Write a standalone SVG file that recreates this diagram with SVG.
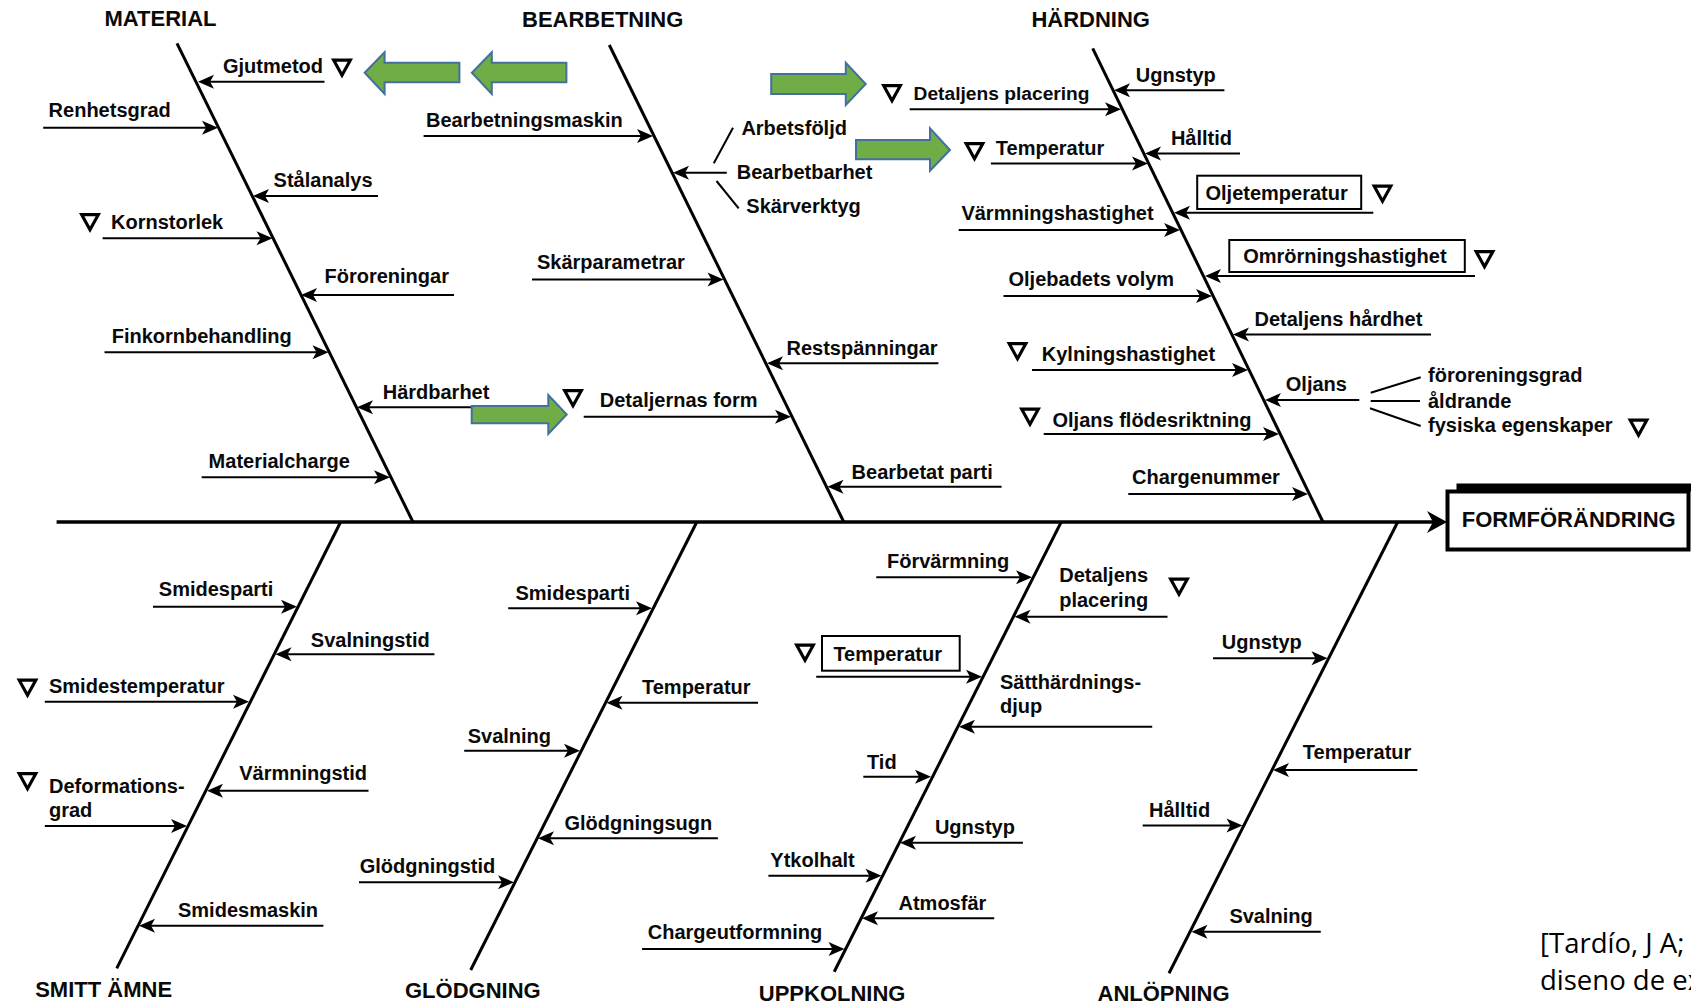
<svg xmlns="http://www.w3.org/2000/svg" xmlns:xlink="http://www.w3.org/1999/xlink" width="1691" height="1008" viewBox="0 0 1691 1008">
<style>
.lbl{font-family:"Liberation Sans",Arial,sans-serif;font-weight:bold;font-size:20px;fill:#0a0a0a}
.hd{font-family:"Liberation Sans",Arial,sans-serif;font-weight:bold;font-size:22px;fill:#0a0a0a}
.cite{font-family:"Open Sans","Noto Sans",sans-serif;font-size:27.5px;fill:#000}
.spine{stroke:#000;stroke-width:3;fill:none}
.br{stroke:#000;stroke-width:2;fill:none}
.arr{stroke:#000;stroke-width:2;fill:none;marker-end:url(#ah)}
.box{fill:none;stroke:#000;stroke-width:2}
.green{fill:#70AD47;stroke:#41719C;stroke-width:2}
</style>
<defs>
<marker id="ah" markerUnits="userSpaceOnUse" markerWidth="20" markerHeight="18" viewBox="-10 -9 20 18" refX="0" refY="0" orient="auto"><path d="M8,0 L-8,-7 L-4,0 L-8,7 z" fill="#000"/></marker>
<marker id="ahB" markerUnits="userSpaceOnUse" markerWidth="26" markerHeight="26" viewBox="-13 -13 26 26" refX="0" refY="0" orient="auto"><path d="M10,0 L-10,-11 L-4,0 L-10,11 z" fill="#000"/></marker>
<polygon id="tri" points="1.7,1.7 18.3,1.7 10,16.8" fill="none" stroke="#000" stroke-width="3.2"/>
</defs>
<rect width="1691" height="1008" fill="#fff"/>

<g id="connectors">
<line x1="56.6" y1="522" x2="1437" y2="522" stroke="#000" stroke-width="3.5" marker-end="url(#ahB)"/>
<line class="spine" x1="177" y1="43.3" x2="413" y2="522"/>
<line class="spine" x1="609.3" y1="45" x2="843.8" y2="522"/>
<line class="spine" x1="1092.7" y1="48.3" x2="1323" y2="522"/>
<line class="spine" x1="340.6" y1="522" x2="116.7" y2="968.3"/>
<line class="spine" x1="696.8" y1="522" x2="470.7" y2="970"/>
<line class="spine" x1="1061.2" y1="522" x2="834.2" y2="971.7"/>
<line class="spine" x1="1397.7" y1="522" x2="1169" y2="973.3"/>
<!-- material -->
<line class="arr" x1="324.5" y1="81.7" x2="206" y2="81.7"/>
<line class="arr" x1="43.2" y1="127.7" x2="210" y2="127.7"/>
<line class="arr" x1="378" y1="196" x2="261" y2="196"/>
<line class="arr" x1="102.6" y1="238.3" x2="264.5" y2="238.3"/>
<line class="arr" x1="454" y1="295" x2="309" y2="295"/>
<line class="arr" x1="104.5" y1="352.3" x2="320.5" y2="352.3"/>
<line class="arr" x1="475" y1="407.3" x2="365" y2="407.3"/>
<line class="arr" x1="201.7" y1="477.3" x2="382" y2="477.3"/>
<!-- bearbetning -->
<line class="arr" x1="423.6" y1="136" x2="645" y2="136"/>
<line class="arr" x1="726.8" y1="172.7" x2="681" y2="172.7"/>
<line class="br" x1="733" y1="127.7" x2="713.8" y2="163.3"/>
<line class="br" x1="716.5" y1="181" x2="738.7" y2="208.3"/>
<line class="arr" x1="532" y1="279.5" x2="715.5" y2="279.5"/>
<line class="arr" x1="938.4" y1="363.3" x2="775" y2="363.3"/>
<line class="arr" x1="583.7" y1="416.7" x2="783" y2="416.7"/>
<line class="arr" x1="1001.6" y1="486.7" x2="835.5" y2="486.7"/>
<!-- härdning -->
<line class="arr" x1="1224.4" y1="90.3" x2="1122" y2="90.3"/>
<line class="arr" x1="909.7" y1="109.3" x2="1113" y2="109.3"/>
<line class="arr" x1="1240" y1="153.6" x2="1153" y2="153.6"/>
<line class="arr" x1="990.9" y1="163.5" x2="1140" y2="163.5"/>
<line class="arr" x1="1373.3" y1="212.8" x2="1182" y2="212.8"/>
<line class="arr" x1="958.7" y1="230" x2="1172" y2="230"/>
<line class="arr" x1="1475" y1="276" x2="1213" y2="276"/>
<line class="arr" x1="1003.5" y1="296" x2="1204" y2="296"/>
<line class="arr" x1="1431" y1="334.6" x2="1241" y2="334.6"/>
<line class="arr" x1="1032" y1="370" x2="1240" y2="370"/>
<line class="arr" x1="1359.3" y1="400" x2="1273" y2="400"/>
<line class="br" x1="1370.7" y1="392.7" x2="1420.7" y2="377.3"/>
<line class="br" x1="1370.7" y1="401" x2="1420" y2="401"/>
<line class="br" x1="1370" y1="408.3" x2="1420.7" y2="426"/>
<line class="arr" x1="1043.7" y1="434" x2="1271" y2="434"/>
<line class="arr" x1="1128.3" y1="494" x2="1300" y2="494"/>
<!-- smitt ämne -->
<line class="arr" x1="153" y1="606.7" x2="289" y2="606.7"/>
<line class="arr" x1="434.4" y1="654.3" x2="283.5" y2="654.3"/>
<line class="arr" x1="44.8" y1="701.7" x2="241" y2="701.7"/>
<line class="arr" x1="368.5" y1="790.7" x2="215" y2="790.7"/>
<line class="arr" x1="44.8" y1="826" x2="179" y2="826"/>
<line class="arr" x1="323.4" y1="925.7" x2="147" y2="925.7"/>
<!-- glödgning -->
<line class="arr" x1="508.2" y1="608.3" x2="644" y2="608.3"/>
<line class="arr" x1="758" y1="702.7" x2="614.5" y2="702.7"/>
<line class="arr" x1="464.2" y1="750.7" x2="572" y2="750.7"/>
<line class="arr" x1="717.9" y1="838.3" x2="546" y2="838.3"/>
<line class="arr" x1="359" y1="882.3" x2="506" y2="882.3"/>
<!-- uppkolning -->
<line class="arr" x1="876.3" y1="577.3" x2="1024" y2="577.3"/>
<line class="arr" x1="1167.5" y1="616.7" x2="1022.5" y2="616.7"/>
<line class="arr" x1="816.2" y1="676.7" x2="974" y2="676.7"/>
<line class="arr" x1="1152.2" y1="726.7" x2="967" y2="726.7"/>
<line class="arr" x1="863.3" y1="776.7" x2="923" y2="776.7"/>
<line class="arr" x1="1022.9" y1="842.7" x2="908" y2="842.7"/>
<line class="arr" x1="768.4" y1="875.7" x2="873.5" y2="875.7"/>
<line class="arr" x1="994.2" y1="918.3" x2="870" y2="918.3"/>
<line class="arr" x1="642.1" y1="949" x2="836.5" y2="949"/>
<!-- anlöpning -->
<line class="arr" x1="1213" y1="658.3" x2="1319.5" y2="658.3"/>
<line class="arr" x1="1417.4" y1="770" x2="1281" y2="770"/>
<line class="arr" x1="1142.7" y1="825.5" x2="1234.5" y2="825.5"/>
<line class="arr" x1="1320.8" y1="931.7" x2="1199.5" y2="931.7"/>
</g>

<g id="green-arrows">
<polygon class="green" points="364.7,72.7 384.6,52.3 384.6,62.7 459.4,62.7 459.4,82.3 384.6,82.3 384.6,94"/>
<polygon class="green" points="471.9,72.7 491.8,52.3 491.8,62.7 566.4,62.7 566.4,82.3 491.8,82.3 491.8,94"/>
<polygon class="green" points="471.7,406 548.3,406 548.3,395 566.7,414.5 548.3,434 548.3,423.3 471.7,423.3"/>
<polygon class="green" points="771.2,74 845.8,74 845.8,62.7 865.7,84 845.8,105 845.8,94 771.2,94"/>
<polygon class="green" points="856,140 930,140 930,128.3 950,150 930,170.7 930,159.3 856,159.3"/>
</g>

<g id="cat-material"><text class="hd" x="104.5" y="26">MATERIAL</text></g>
<g id="cat-bearbetning"><text class="hd" x="522" y="27.3">BEARBETNING</text></g>
<g id="cat-hardning"><text class="hd" x="1031.4" y="27.3">HÄRDNING</text></g>
<g id="cat-smitt"><text class="hd" x="35.2" y="996.7">SMITT ÄMNE</text></g>
<g id="cat-glodgning"><text class="hd" x="405" y="998.3">GLÖDGNING</text></g>
<g id="cat-uppkolning"><text class="hd" x="758.8" y="1000.5">UPPKOLNING</text></g>
<g id="cat-anlopning"><text class="hd" x="1097.5" y="1000.5">ANLÖPNING</text></g>

<g id="effect">
<rect x="1456.5" y="483.5" width="240" height="8" fill="#000"/>
<rect x="1447.5" y="491.5" width="241" height="58" fill="#fff" stroke="#000" stroke-width="4"/>
<text class="hd" x="1461.8" y="526.7">FORMFÖRÄNDRING</text>
</g>

<!-- MATERIAL -->
<g id="n-gjutmetod"><text class="lbl" x="223" y="72.7">Gjutmetod</text><use xlink:href="#tri" x="332" y="58.5"/></g>
<g id="n-renhetsgrad"><text class="lbl" x="48.6" y="116.7">Renhetsgrad</text></g>
<g id="n-stalanalys"><text class="lbl" x="273.6" y="187.3">Stålanalys</text></g>
<g id="n-kornstorlek"><use xlink:href="#tri" x="80" y="213"/><text class="lbl" x="111" y="229.3">Kornstorlek</text></g>
<g id="n-fororeningar"><text class="lbl" x="324.5" y="283.3">Föroreningar</text></g>
<g id="n-finkorn"><text class="lbl" x="111.7" y="343.3">Finkornbehandling</text></g>
<g id="n-hardbarhet"><text class="lbl" x="382.7" y="399">Härdbarhet</text></g>
<g id="n-materialcharge"><text class="lbl" x="208.6" y="468.3">Materialcharge</text></g>

<!-- BEARBETNING -->
<g id="n-bmaskin"><text class="lbl" x="426" y="126.7">Bearbetningsmaskin</text></g>
<g id="n-arbetsfoljd"><text class="lbl" x="741.4" y="135">Arbetsföljd</text></g>
<g id="n-bearbetbarhet"><text class="lbl" x="736.8" y="179.3">Bearbetbarhet</text></g>
<g id="n-skarverktyg"><text class="lbl" x="746.3" y="213.3">Skärverktyg</text></g>
<g id="n-skarparam"><text class="lbl" x="537" y="269.3">Skärparametrar</text></g>
<g id="n-restsp"><text class="lbl" x="786.5" y="355">Restspänningar</text></g>
<g id="n-detform"><use xlink:href="#tri" x="563" y="389"/><text class="lbl" x="599.8" y="406.7">Detaljernas form</text></g>
<g id="n-bparti"><text class="lbl" x="851.6" y="479">Bearbetat parti</text></g>

<!-- HÄRDNING -->
<g id="n-h-ugnstyp"><text class="lbl" x="1135.8" y="82">Ugnstyp</text></g>
<g id="n-h-detplac"><use xlink:href="#tri" x="882" y="84"/><text class="lbl" x="913.6" y="100" style="font-size:19.2px">Detaljens placering</text></g>
<g id="n-h-halltid"><text class="lbl" x="1170.9" y="144.6">Hålltid</text></g>
<g id="n-h-temp"><use xlink:href="#tri" x="964.5" y="142"/><text class="lbl" x="995.8" y="155">Temperatur</text></g>
<g id="n-h-oljetemp"><rect class="box" x="1197.2" y="175.7" width="164" height="33.3"/><text class="lbl" x="1205.5" y="200">Oljetemperatur</text><use xlink:href="#tri" x="1372.5" y="184.5"/></g>
<g id="n-h-varmhast"><text class="lbl" x="961.4" y="220">Värmningshastighet</text></g>
<g id="n-h-omror"><rect class="box" x="1229.3" y="240" width="235.5" height="32"/><text class="lbl" x="1243.2" y="263.2">Omrörningshastighet</text><use xlink:href="#tri" x="1474.5" y="250"/></g>
<g id="n-h-oljebad"><text class="lbl" x="1008.5" y="286">Oljebadets volym</text></g>
<g id="n-h-dethard"><text class="lbl" x="1254.5" y="325.7">Detaljens hårdhet</text></g>
<g id="n-h-kylhast"><use xlink:href="#tri" x="1007.5" y="342"/><text class="lbl" x="1041.8" y="361">Kylningshastighet</text></g>
<g id="n-h-oljans"><text class="lbl" x="1285.8" y="391">Oljans</text></g>
<g id="n-h-fgrad"><text class="lbl" x="1428" y="381.7">föroreningsgrad</text></g>
<g id="n-h-aldrande"><text class="lbl" x="1428" y="407.7">åldrande</text></g>
<g id="n-h-fysiska"><text class="lbl" x="1428" y="431.7">fysiska egenskaper</text><use xlink:href="#tri" x="1628.5" y="418.5"/></g>
<g id="n-h-flode"><use xlink:href="#tri" x="1020" y="407.5"/><text class="lbl" x="1052.5" y="426.7">Oljans flödesriktning</text></g>
<g id="n-h-chargenr"><text class="lbl" x="1132" y="483.9">Chargenummer</text></g>

<!-- SMITT ÄMNE -->
<g id="n-s-smidesparti"><text class="lbl" x="158.8" y="596">Smidesparti</text></g>
<g id="n-s-svaltid"><text class="lbl" x="310.8" y="646.7">Svalningstid</text></g>
<g id="n-s-smidtemp"><use xlink:href="#tri" x="17.5" y="678.5"/><text class="lbl" x="49" y="692.7">Smidestemperatur</text></g>
<g id="n-s-varmtid"><text class="lbl" x="239.2" y="780">Värmningstid</text></g>
<g id="n-s-deform"><use xlink:href="#tri" x="17.5" y="772"/><text class="lbl" x="49" y="792.7">Deformations-</text><text class="lbl" x="49" y="816.7">grad</text></g>
<g id="n-s-smidmaskin"><text class="lbl" x="178" y="916.7">Smidesmaskin</text></g>

<!-- GLÖDGNING -->
<g id="n-g-smidesparti"><text class="lbl" x="515.5" y="600">Smidesparti</text></g>
<g id="n-g-temp"><text class="lbl" x="642" y="694.3">Temperatur</text></g>
<g id="n-g-svalning"><text class="lbl" x="467.7" y="743.3">Svalning</text></g>
<g id="n-g-ugn"><text class="lbl" x="564.5" y="830">Glödgningsugn</text></g>
<g id="n-g-tid"><text class="lbl" x="359.7" y="872.7">Glödgningstid</text></g>

<!-- UPPKOLNING -->
<g id="n-u-forvarm"><text class="lbl" x="887" y="568.3">Förvärmning</text></g>
<g id="n-u-detplac"><text class="lbl" x="1059.2" y="581.7">Detaljens</text><text class="lbl" x="1059.2" y="606.7">placering</text><use xlink:href="#tri" x="1169" y="577.5"/></g>
<g id="n-u-temp"><use xlink:href="#tri" x="795" y="643.5"/><rect class="box" x="822" y="636" width="137.7" height="34.7"/><text class="lbl" x="833.4" y="661">Temperatur</text></g>
<g id="n-u-satth"><text class="lbl" x="1000" y="689.3">Sätthärdnings-</text><text class="lbl" x="1000" y="713.3">djup</text></g>
<g id="n-u-tid"><text class="lbl" x="867" y="769.3">Tid</text></g>
<g id="n-u-ugnstyp"><text class="lbl" x="934.9" y="834">Ugnstyp</text></g>
<g id="n-u-ytkol"><text class="lbl" x="770.3" y="866.7">Ytkolhalt</text></g>
<g id="n-u-atmos"><text class="lbl" x="898.5" y="910">Atmosfär</text></g>
<g id="n-u-chargeut"><text class="lbl" x="647.8" y="939.3">Chargeutformning</text></g>

<!-- ANLÖPNING -->
<g id="n-a-ugnstyp"><text class="lbl" x="1221.8" y="649">Ugnstyp</text></g>
<g id="n-a-temp"><text class="lbl" x="1302.8" y="759.3">Temperatur</text></g>
<g id="n-a-halltid"><text class="lbl" x="1149" y="816.7">Hålltid</text></g>
<g id="n-a-svalning"><text class="lbl" x="1229.4" y="923.3">Svalning</text></g>

<g id="citation">
<text class="cite" x="1540" y="953">[Tardío, J A;</text>
<text class="cite" x="1540" y="990">diseno de ex</text>
</g>
</svg>
